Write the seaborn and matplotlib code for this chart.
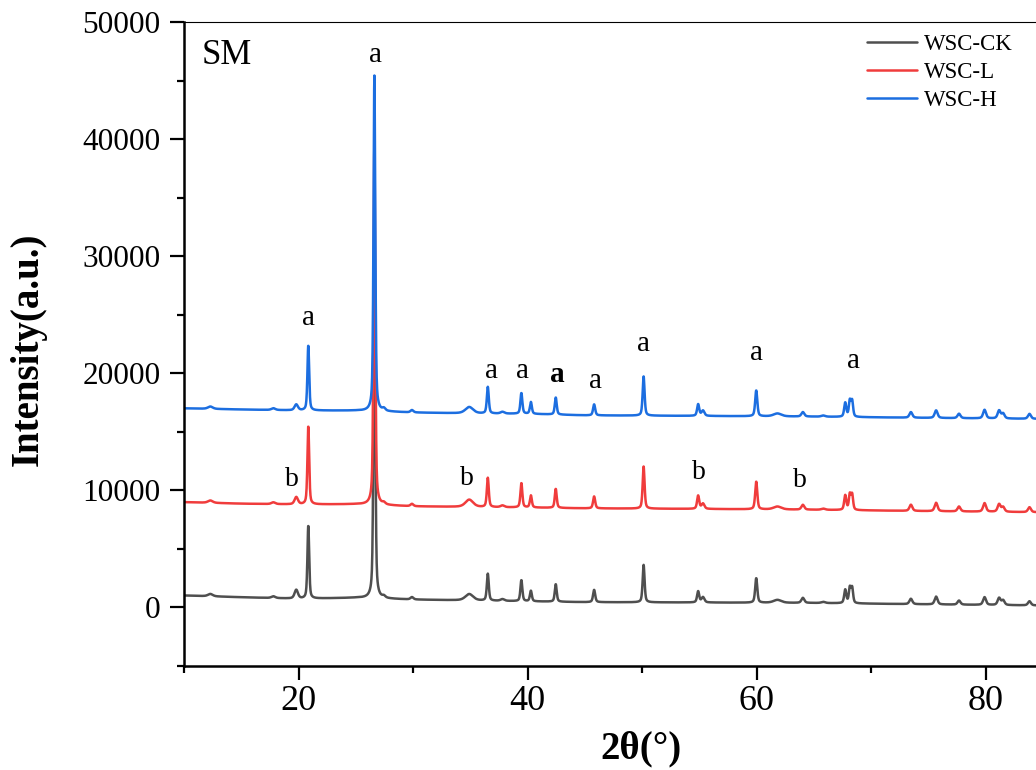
import numpy as np
import pandas as pd
import matplotlib
matplotlib.use('Agg')
import matplotlib.pyplot as plt
from matplotlib.ticker import MultipleLocator
import seaborn as sns

# ---------------------------------------------------------------------------
# XRD peak list (2theta in deg, FWHM in deg)
peak_pos = [12.3, 17.8, 19.8, 20.85, 26.62, 27.45, 29.9, 34.9, 36.52, 37.8,
            39.45, 40.28, 42.45, 45.8, 50.12, 54.88, 55.3, 59.95, 61.8, 64.02,
            65.8, 67.72, 68.12, 68.32, 73.45, 75.65, 77.65, 79.88, 81.15, 81.5,
            83.8]
peak_fwhm = [0.5, 0.4, 0.35, 0.18, 0.18, 0.3, 0.3, 0.8, 0.2, 0.4,
             0.2, 0.2, 0.2, 0.22, 0.2, 0.22, 0.3, 0.22, 0.8, 0.3,
             0.4, 0.22, 0.2, 0.2, 0.3, 0.3, 0.3, 0.3, 0.3, 0.3,
             0.3]

# peak heights above background for each sample
height_ck = [200, 150, 750, 6250, 30000, 150, 200, 550, 2300, 150,
             1800, 900, 1500, 1050, 3200, 950, 450, 2100, 250, 430,
             100, 1150, 1300, 1300, 460, 670, 350, 660, 600, 400,
             350]
height_l = [200, 150, 620, 6700, 31000, 150, 200, 630, 2500, 150,
            2080, 1030, 1630, 1020, 3600, 1130, 450, 2370, 250, 410,
            100, 1250, 1300, 1300, 530, 720, 420, 730, 650, 400,
            420]
height_h = [200, 150, 500, 5570, 28700, 200, 200, 550, 2270, 150,
            1770, 1010, 1460, 940, 3350, 990, 450, 2210, 250, 380,
            100, 1200, 1350, 1350, 480, 650, 380, 730, 680, 420,
            420]

# background level at a few angles
bg_x = [10, 15, 20, 25, 30, 35, 40, 45, 55, 65, 75, 84.4]
bg_ck = [1000, 850, 720, 800, 650, 570, 500, 430, 400, 360, 240, 150]
bg_l = [8980, 8850, 8780, 8800, 8620, 8560, 8520, 8450, 8400, 8330, 8210, 8120]
bg_h = [17000, 16900, 16820, 16800, 16640, 16560, 16530, 16400, 16350, 16290, 16180, 16100]

samples = ['WSC-CK', 'WSC-L', 'WSC-H']
colors = ['#4f4f4f', '#f03c3c', '#1c6ee0']

# phase labels
lab_text = ['a', 'a', 'a', 'a', 'a', 'a', 'a', 'a', 'a', 'b', 'b', 'b', 'b']
lab_x = [26.7, 20.88, 36.8, 39.55, 42.58, 45.9, 50.08, 59.95, 68.4, 19.38, 34.68, 54.95, 63.8]
lab_y = [47190, 24700, 20180, 20180, 19850, 19350, 22470, 21750, 21020, 10920, 10980, 11500, 10810]


def pattern(two_theta, heights, bg):
    y = np.interp(two_theta, bg_x, bg)
    for p, w, h in zip(peak_pos, peak_fwhm, heights):
        d = (two_theta - p) / (w / 2)
        y += h * (0.5 / (1 + d ** 2) + 0.5 * np.exp(-np.log(2) * d ** 2))
    return y


tt = np.arange(10, 84.4, 0.02)
frames = []
for name, hh, bb in zip(samples, [height_ck, height_l, height_h], [bg_ck, bg_l, bg_h]):
    frames.append(pd.DataFrame({'2theta': tt, 'I': pattern(tt, hh, bb), 'sample': name}))
df = pd.concat(frames, ignore_index=True)

# ---------------------------------------------------------------------------
sns.set_style('ticks')
plt.rcParams['font.family'] = ['Liberation Serif', 'DejaVu Serif']
plt.rcParams['text.color'] = 'black'
plt.rcParams['axes.labelcolor'] = 'black'
plt.rcParams['axes.edgecolor'] = 'black'
plt.rcParams['xtick.color'] = 'black'
plt.rcParams['ytick.color'] = 'black'

fig = plt.figure(figsize=(10.36, 7.7), dpi=100)
ax = fig.add_axes([0.1776, 0.1355, 0.8224, 0.8355])

sns.lineplot(data=df, x='2theta', y='I', hue='sample', hue_order=samples,
             palette=colors, estimator=None, sort=False, linewidth=1.8, ax=ax)

ax.set_xlim(10, 84.37)
ax.set_ylim(-5000, 50000)
ax.xaxis.set_major_locator(MultipleLocator(20))
ax.xaxis.set_minor_locator(MultipleLocator(10))
ax.yaxis.set_major_locator(MultipleLocator(10000))
ax.yaxis.set_minor_locator(MultipleLocator(5000))

ax.tick_params(axis='both', which='major', direction='out', length=10, width=1.6, color='black')
ax.tick_params(axis='both', which='minor', direction='out', length=5, width=1.6, color='black')
ax.tick_params(axis='x', which='major', labelsize=26, pad=4, labelcolor='black')
ax.tick_params(axis='y', which='major', labelsize=22.5, pad=7, labelcolor='black')

ax.spines['left'].set_linewidth(1.8)
ax.spines['bottom'].set_linewidth(1.8)
ax.spines['top'].set_linewidth(0.8)
ax.spines['right'].set_visible(False)
for s in ['left', 'bottom', 'top']:
    ax.spines[s].set_color('black')

ax.set_xlabel('2θ(°)', fontsize=28, fontweight='bold', color='black')
ax.set_ylabel('Intensity(a.u.)', fontsize=28, fontweight='bold', color='black')
ax.xaxis.set_label_coords(0.536, -0.101)
ax.yaxis.set_label_coords(-0.161, 0.492)

for t, x, y in zip(lab_text, lab_x, lab_y):
    bold = (t == 'a' and x == 42.58)
    ax.text(x, y, t, fontsize=21 if t == 'a' else 20, ha='center', va='center',
            color='black', fontweight='bold' if bold else 'normal')

ax.text(11.57, 46480, 'SM', fontsize=25, ha='left', va='baseline', color='black')

handles, labels = ax.get_legend_handles_labels()
for h in handles:
    h.set_linewidth(1.8)
ax.legend(handles, labels, loc='upper left', bbox_to_anchor=(867 / 1036, 1 - 34 / 770),
          bbox_transform=fig.transFigure, frameon=False, fontsize=16.5,
          handlelength=2.2, handletextpad=0.3, labelspacing=0.3,
          borderpad=0, borderaxespad=0)

fig.savefig('out.png', dpi=100)
